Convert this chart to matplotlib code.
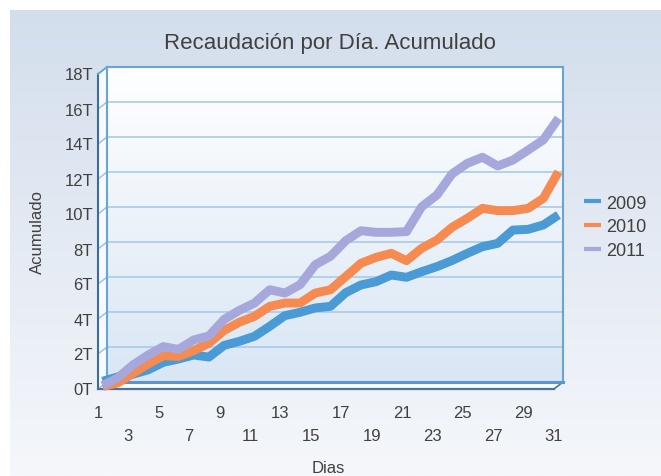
import matplotlib
matplotlib.use('Agg')
import matplotlib.pyplot as plt
import matplotlib.transforms as mtransforms
from matplotlib.colors import LinearSegmentedColormap
from matplotlib.patches import Polygon
import numpy as np

plt.rcParams['font.family'] = ['Liberation Sans', 'DejaVu Sans']

# datos (en T)
dias = list(range(1, 32))
serie_2009 = [0.3, 0.55, 0.7, 0.95, 1.38, 1.57, 1.8, 1.68, 2.35, 2.58, 2.87, 3.44, 4.05, 4.24, 4.49, 4.58,
              5.36, 5.8, 5.99, 6.37, 6.24, 6.56, 6.85, 7.2, 7.61, 7.99, 8.18, 8.94, 8.98, 9.23, 9.8]
serie_2010 = [0.0, 0.2, 0.75, 1.29, 1.76, 1.72, 2.05, 2.47, 3.2, 3.67, 4.01, 4.58, 4.77, 4.77, 5.34, 5.53,
              6.28, 7.04, 7.38, 7.61, 7.19, 7.9, 8.37, 9.1, 9.61, 10.18, 10.05, 10.05, 10.18, 10.75, 12.27]
serie_2011 = [0.05, 0.49, 1.23, 1.8, 2.28, 2.12, 2.66, 2.89, 3.83, 4.35, 4.77, 5.53, 5.34, 5.82, 6.96, 7.44,
              8.33, 8.9, 8.81, 8.81, 8.85, 10.27, 10.94, 12.15, 12.75, 13.1, 12.6, 12.94, 13.51, 14.09, 15.33]
nombres = ['2009', '2010', '2011']
colores = ['#4a9ad5', '#f68b52', '#a6a7da']
yticks = list(range(0, 19, 2))
ytick_labels = [f'{v}T' for v in yticks]
xticks = list(range(1, 32, 2))

W, H = 661, 477
txt_color = '#404040'
fig = plt.figure(figsize=(W / 100, H / 100), dpi=100)

# fondo del area del grafico (coordenadas en pixeles)
bg = fig.add_axes([0, 0, 1, 1])
bg.set_xlim(0, W)
bg.set_ylim(H, 0)
bg.axis('off')
grad = np.linspace(0, 1, 256).reshape(-1, 1)
cm_bg = LinearSegmentedColormap.from_list('bg', ['#d3deec', '#f5f7fb'])
bg.imshow(grad, cmap=cm_bg, extent=(10, W, H, 11), aspect='auto', zorder=0)

# pared del fondo
ax = fig.add_axes([107 / W, (H - 383) / H, 456 / W, 315 / H])
ax.set_xlim(1, 31)
ax.set_ylim(0, 18)
cm_wall = LinearSegmentedColormap.from_list('wall', ['#ffffff', '#d9e6f4'])
ax.imshow(grad, cmap=cm_wall, extent=(1, 31, 0, 18), aspect='auto', zorder=0)
ax.set_yticks(yticks)
ax.set_xticks([])
ax.grid(axis='y', color='#a9cbea', lw=1.2, zorder=1)
ax.tick_params(length=0, labelleft=False, labelbottom=False)
for s in ax.spines.values():
    s.set_color('#6aa4d4')
    s.set_linewidth(1.5)
ax.spines['bottom'].set_linewidth(2.2)
ax.spines['bottom'].set_color('#5b97cc')


def px(x, y):
    X, Y = ax.transData.transform((x, y))
    return X, H - Y


# profundidad 3D (pixeles)
dx, dy = -9, 7
x0, y0 = px(1, 0)
x1, y1 = px(31, 0)
_, ytop = px(1, 18)

# pared izquierda
bg.add_patch(Polygon([(x0 + dx, ytop + dy), (x0, ytop), (x0, y0), (x0 + dx, y0 + dy)],
                     closed=True, fc='#f7fafd', ec='none', zorder=2))
for v in yticks:
    _, yk = px(1, v)
    bg.plot([x0 + dx, x0], [yk + dy, yk], color='#9fc3e6', lw=1.1, zorder=3)
bg.plot([x0 + dx, x0 + dx], [ytop + dy, y0 + dy], color='#3e6e98', lw=1.5, zorder=4)
bg.plot([x0 + dx, x0], [ytop + dy, ytop], color='#6aa4d4', lw=1.3, zorder=4)

# piso
bg.add_patch(Polygon([(x0, y0), (x1, y1), (x1 + dx, y1 + dy), (x0 + dx, y0 + dy)],
                     closed=True, fc='#f9fbfd', ec='none', zorder=2))
bg.plot([x0 + dx, x1 + dx], [y0 + dy, y1 + dy], color='#4d7299', lw=1.6, zorder=4)
bg.plot([x1, x1 + dx], [y1, y1 + dy], color='#4d7299', lw=1.2, zorder=4)

# series (cintas a media profundidad)
tr_linea = mtransforms.offset_copy(ax.transData, fig=fig, x=dx / 2, y=-4.5, units='dots')
for k, (serie, color, nombre) in enumerate(zip([serie_2009, serie_2010, serie_2011], colores, nombres)):
    ax.plot(dias, serie, color=color, lw=6.4, solid_joinstyle='round', solid_capstyle='butt',
            transform=tr_linea, clip_on=False, zorder=5 + k, label=nombre)

# etiquetas de los ejes
tr_y = mtransforms.offset_copy(ax.get_yaxis_transform(), fig=fig, x=-14, y=-8, units='dots')
for v, lab in zip(yticks, ytick_labels):
    ax.text(0, v, lab, transform=tr_y, ha='right', va='center', fontsize=12, color=txt_color)

for i, d in enumerate(xticks):
    fila = -31 if i % 2 == 0 else -54
    tr_x = mtransforms.offset_copy(ax.get_xaxis_transform(), fig=fig, x=dx, y=fila, units='dots')
    ax.text(d, 0, str(d), transform=tr_x, ha='center', va='center', fontsize=12, color=txt_color)

fig.text(330 / W, 1 - 44 / H, 'Recaudación por Día. Acumulado', ha='center', va='center',
         fontsize=16, color=txt_color)
fig.text(37 / W, 1 - 232 / H, 'Acumulado', rotation=90, ha='center', va='center',
         fontsize=12, color=txt_color)
fig.text(328 / W, 1 - 469 / H, 'Dias', ha='center', va='center', fontsize=12, color=txt_color)

handles, labels = ax.get_legend_handles_labels()
leg = fig.legend(handles, labels, loc='center left', bbox_to_anchor=(568 / W, 1 - 228 / H),
                 frameon=False, fontsize=13, labelcolor=txt_color, handlelength=0.9,
                 handletextpad=0.3, labelspacing=0.38)
for h in leg.get_lines():
    h.set_linewidth(3)

fig.savefig('out.png', dpi=100)
